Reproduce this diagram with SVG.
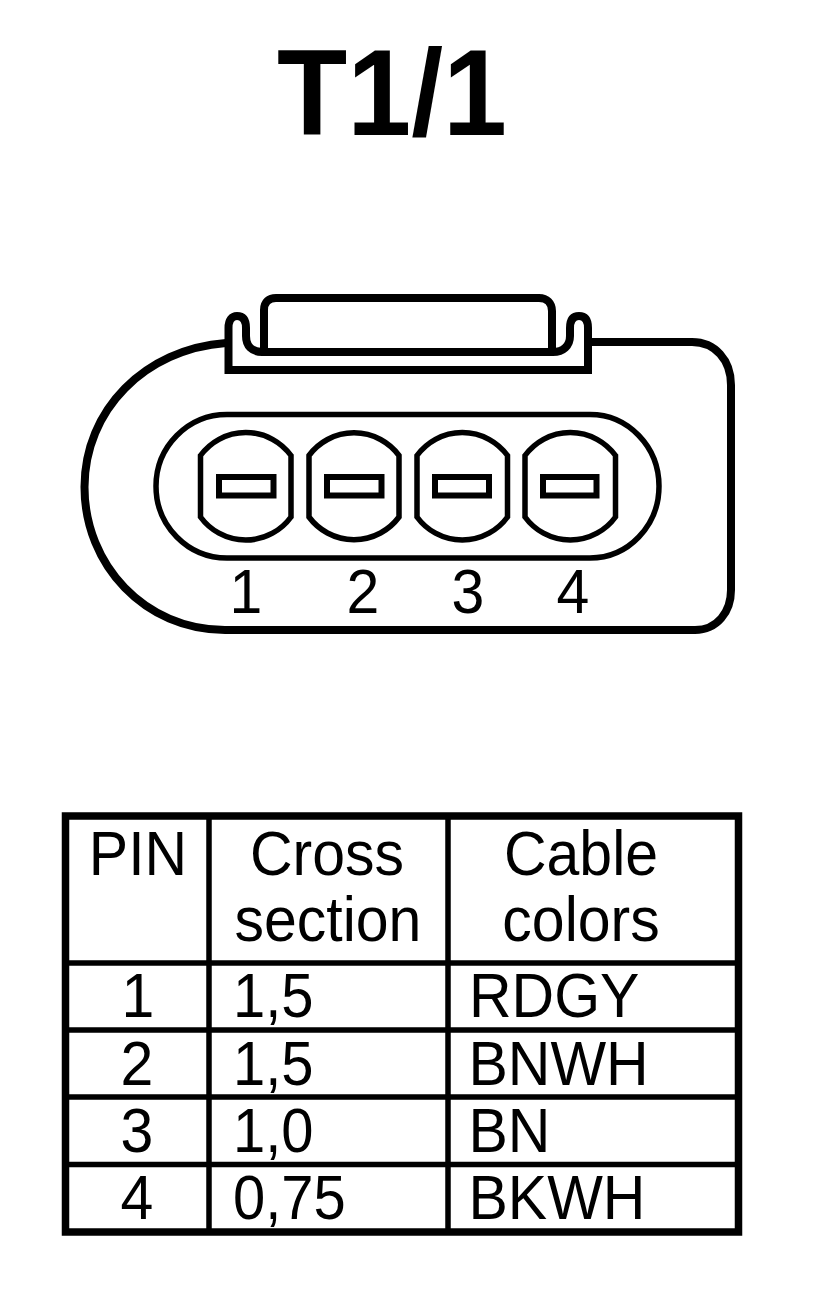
<svg xmlns="http://www.w3.org/2000/svg" width="816" height="1290" viewBox="0 0 816 1290">
<style>
text{font-family:"Liberation Sans",Arial,sans-serif;fill:#000;font-size:63px}
.c{text-anchor:middle}
.thick{fill:none;stroke:#000;stroke-width:8}
.oval{fill:none;stroke:#000;stroke-width:5.5}
.blade{fill:none;stroke:#000;stroke-width:6}
.grid{fill:none;stroke:#000;stroke-width:5.5}
.frame{fill:none;stroke:#000;stroke-width:7.500}
</style>
<rect width="816" height="1290" fill="#fff"/>
<text id="title" x="277" y="135" style="font-size:123px;font-weight:700" textLength="230" lengthAdjust="spacingAndGlyphs">T1/1</text>
<g id="connector-body">
<path class="thick" d="M226 343C145 349 84.500 410 84.500 487C84.500 565 145 630 225 630H695C717 630 731 612 731 590V385C731 360 715 342 692 342H590"/>
<path class="thick" d="M264 351V310C264 302 269 298 276 298H539C547 298 552 303 552 311V351"/>
<path class="thick" d="M228.500 370V328C228.500 320 232 316 237 316C243 316 246 320 246 328V336C246 346 252 352 262 352H553C563 352 570 346 570 336V328C570 320 573 316 579 316C585 316 588 320 588 328V370Z"/>
<path class="oval" d="M227 414.500H590A69 71.750 0 0 1 590 558H227A71 71.750 0 0 1 227 414.500Z"/>
</g>
<g id="pin-1"><path class="oval" d="M200.500 455.500A56 56 0 0 1 291 455.500V517A56 56 0 0 1 200.500 517Z"/><rect class="blade" x="219" y="477" width="54.500" height="18.500"/><text class="c" transform="translate(246 612.500) scale(.936 1)">1</text></g>
<g id="pin-2"><path class="oval" d="M309 455.500A56 56 0 0 1 399 455.500V517A56 56 0 0 1 309 517Z"/><rect class="blade" x="327" y="477" width="54.500" height="18.500"/><text class="c" transform="translate(363 612.500) scale(.936 1)">2</text></g>
<g id="pin-3"><path class="oval" d="M417 455.500A56 56 0 0 1 507.500 455.500V517A56 56 0 0 1 417 517Z"/><rect class="blade" x="435" y="477" width="54" height="18.500"/><text class="c" transform="translate(468 612.500) scale(.936 1)">3</text></g>
<g id="pin-4"><path class="oval" d="M525 455.500A56 56 0 0 1 615.500 455.500V517A56 56 0 0 1 525 517Z"/><rect class="blade" x="543" y="477" width="53.500" height="18.500"/><text class="c" transform="translate(573 612.500) scale(.936 1)">4</text></g>
<g id="table">
<rect class="frame" x="65.500" y="816" width="673" height="416"/>
<path class="grid" d="M209 816V1232M448 816V1232M66 963H738M66 1030H738M66 1097H738M66 1164.500H738"/>
<text class="c" transform="translate(138 875) scale(.936 1)">PIN</text>
<text class="c" transform="translate(327 875) scale(.936 1)">Cross</text>
<text class="c" transform="translate(328 941) scale(.936 1)">section</text>
<text class="c" transform="translate(581 875) scale(.936 1)">Cable</text>
<text class="c" transform="translate(581 941) scale(.936 1)">colors</text>
<text class="c" transform="translate(138 1017) scale(.936 1)">1</text><text transform="translate(233 1017) scale(.92 1)">1,5</text><text transform="translate(469 1017) scale(.936 1)">RDGY</text>
<text class="c" transform="translate(137 1085) scale(.936 1)">2</text><text transform="translate(233 1085) scale(.92 1)">1,5</text><text transform="translate(468.500 1085) scale(.936 1)">BNWH</text>
<text class="c" transform="translate(137 1152) scale(.936 1)">3</text><text transform="translate(233 1152) scale(.92 1)">1,0</text><text transform="translate(468.500 1152) scale(.936 1)">BN</text>
<text class="c" transform="translate(137 1219) scale(.936 1)">4</text><text transform="translate(233 1219) scale(.92 1)">0,75</text><text transform="translate(468.500 1219) scale(.936 1)">BKWH</text>
</g>
</svg>
